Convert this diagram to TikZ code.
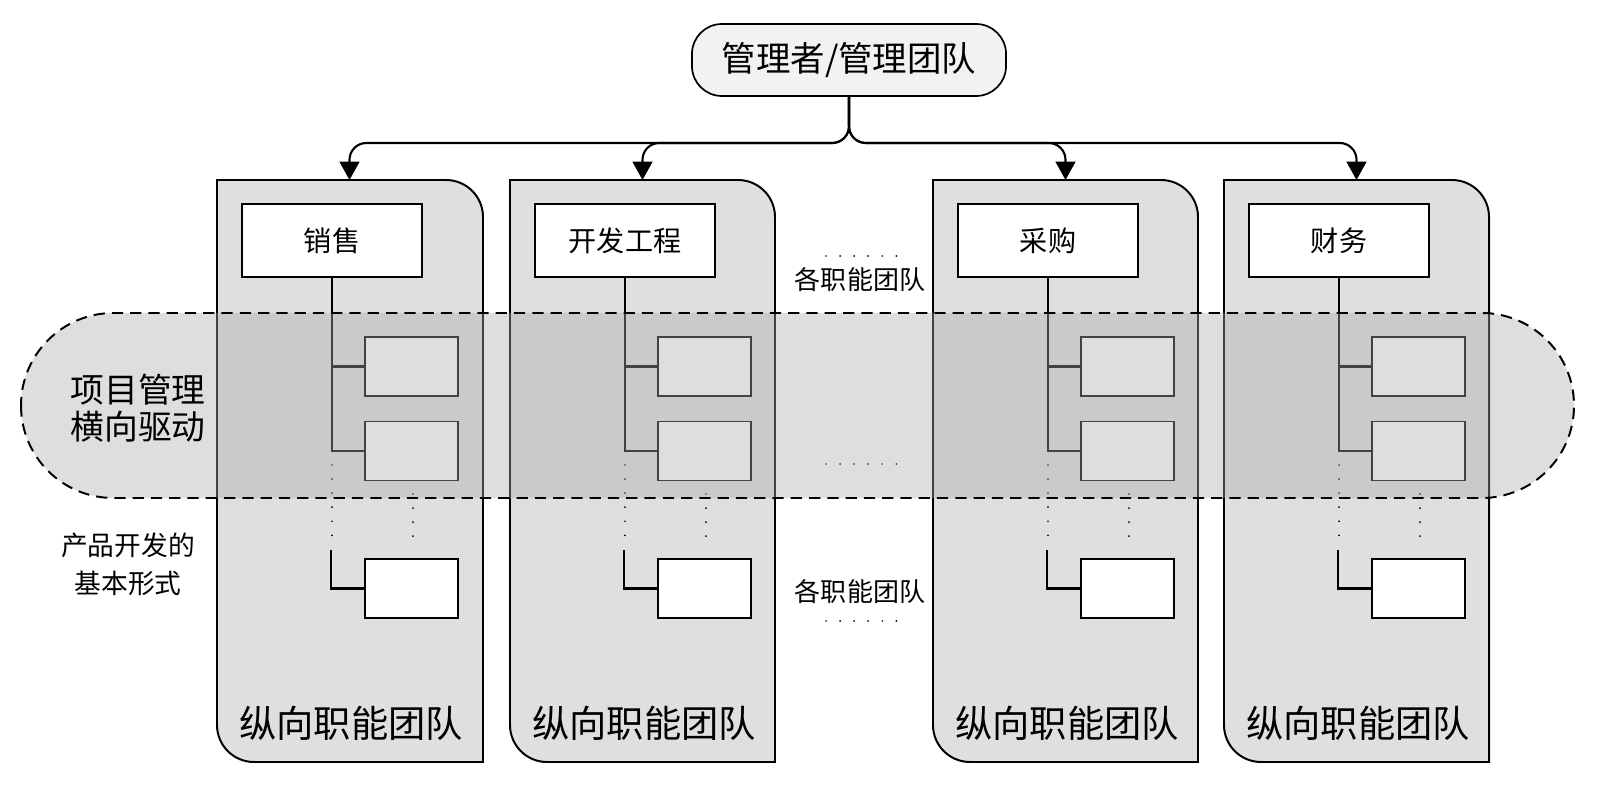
\documentclass[tikz,border=0pt]{standalone}
\usepackage{fontspec}
\setmainfont{Noto Sans CJK SC}
\usepackage{xcolor}
\usetikzlibrary{positioning, calc, arrows.meta}

\definecolor{colfill}{HTML}{DFDFDF}
\definecolor{topfill}{HTML}{F2F2F2}
\definecolor{bandfill}{HTML}{ABABAB}

\tikzset{
  mgrbox/.style={draw, line width=1.2pt, fill=topfill, rounded corners=0.75cm,
    minimum width=7.85cm, minimum height=1.8cm, inner sep=0pt,
    font=\fontsize{24.5}{28}\selectfont},
  colpath/.style={draw, line width=1.4pt, fill=colfill},
  titlebox/.style={draw, line width=1.2pt, fill=white, minimum width=4.5cm,
    minimum height=1.825cm, inner sep=0pt, font=\fontsize{20}{24}\selectfont},
  subbox/.style={draw, line width=1.2pt, fill=white, minimum width=2.325cm,
    minimum height=1.475cm, inner sep=0pt},
  link/.style={line width=1.6pt},
  arrowlink/.style={line width=1.5pt, rounded corners=0.42cm,
    -{Triangle[length=13pt,width=14pt]}},
  dotline/.style={line width=1.4pt, line cap=round, dash pattern=on 0pt off 10pt},
  bandbox/.style={draw, line width=1.4pt, dash pattern=on 8pt off 5pt,
    fill=bandfill, fill opacity=0.39, rounded corners=2.31cm},
  collabel/.style={font=\fontsize{26.5}{30}\selectfont},
}

\begin{document}
\begin{tikzpicture}[x=0.025cm, y=-0.025cm]

    % --- CANVAS (pixel grid, y pointing down) ---
    \useasboundingbox (0,0) rectangle (1611,787);
    \coordinate (bus) at (0,143);

    % --- VERTICAL COLUMNS ---
    % Top-right and bottom-left corners are rounded
    \draw[colpath] (217,180) -- (446,180) arc[start angle=270, end angle=360, radius=37]
        -- (483,762) -- (254,762) arc[start angle=90, end angle=180, radius=37] -- cycle;
    \draw[colpath] (510,180) -- (738,180) arc[start angle=270, end angle=360, radius=37]
        -- (775,762) -- (547,762) arc[start angle=90, end angle=180, radius=37] -- cycle;
    \draw[colpath] (933,180) -- (1161,180) arc[start angle=270, end angle=360, radius=37]
        -- (1198,762) -- (970,762) arc[start angle=90, end angle=180, radius=37] -- cycle;
    \draw[colpath] (1224,180) -- (1452,180) arc[start angle=270, end angle=360, radius=37]
        -- (1489,762) -- (1261,762) arc[start angle=90, end angle=180, radius=37] -- cycle;
    \coordinate (c1) at (349.5,180);
    \coordinate (c2) at (642.5,180);
    \coordinate (c3) at (1065.5,180);
    \coordinate (c4) at (1356.5,180);

    % --- TOP NODE & ARROWS ---
    \node[mgrbox] (mgr) at (849,60) {管理者/管理团队};
    \draw[arrowlink] (mgr.south) |- (c1 |- bus) -- (c1);
    \draw[arrowlink] (mgr.south) |- (c2 |- bus) -- (c2);
    \draw[arrowlink] (mgr.south) |- (c3 |- bus) -- (c3);
    \draw[arrowlink] (mgr.south) |- (c4 |- bus) -- (c4);

    % --- COLUMN 1: sales ---
    \node[titlebox] (xs) at (332,240.5) {销售};
    \node[subbox] (xs1) at (411.5,366.5) {};
    \node[subbox] (xs2) at (411.5,451) {};
    \node[subbox] (xs3) at (411.5,588.5) {};
    \draw[link] (xs.south) |- (xs2.west);
    \draw[link] (xs.south |- xs1.west) -- (xs1.west);
    \draw[link] (xs3.west) -| ++(-33,-39);
    \draw[dotline] (332,465) -- (332,537);
    \draw[dotline] (413,494) -- (413,538);

    % --- COLUMN 2: development ---
    \node[titlebox] (kf) at (625,240.5) {开发工程};
    \node[subbox] (kf1) at (704.5,366.5) {};
    \node[subbox] (kf2) at (704.5,451) {};
    \node[subbox] (kf3) at (704.5,588.5) {};
    \draw[link] (kf.south) |- (kf2.west);
    \draw[link] (kf.south |- kf1.west) -- (kf1.west);
    \draw[link] (kf3.west) -| ++(-33,-39);
    \draw[dotline] (625,465) -- (625,537);
    \draw[dotline] (706,494) -- (706,538);

    % --- COLUMN 3: purchasing ---
    \node[titlebox] (cg) at (1048,240.5) {采购};
    \node[subbox] (cg1) at (1127.5,366.5) {};
    \node[subbox] (cg2) at (1127.5,451) {};
    \node[subbox] (cg3) at (1127.5,588.5) {};
    \draw[link] (cg.south) |- (cg2.west);
    \draw[link] (cg.south |- cg1.west) -- (cg1.west);
    \draw[link] (cg3.west) -| ++(-33,-39);
    \draw[dotline] (1048,465) -- (1048,537);
    \draw[dotline] (1129,494) -- (1129,538);

    % --- COLUMN 4: finance ---
    \node[titlebox] (cw) at (1339,240.5) {财务};
    \node[subbox] (cw1) at (1418.5,366.5) {};
    \node[subbox] (cw2) at (1418.5,451) {};
    \node[subbox] (cw3) at (1418.5,588.5) {};
    \draw[link] (cw.south) |- (cw2.west);
    \draw[link] (cw.south |- cw1.west) -- (cw1.west);
    \draw[link] (cw3.west) -| ++(-33,-39);
    \draw[dotline] (1339,465) -- (1339,537);
    \draw[dotline] (1420,494) -- (1420,538);

    % --- GAP BETWEEN COLUMNS 2 AND 3 ---
    \draw[dotline] (826,256) -- (898,256);
    \node[font=\fontsize{18.5}{22}\selectfont] (gx1) at (860,280) {各职能团队};
    \draw[dotline] (826,464) -- (898,464);
    \node[font=\fontsize{18.5}{22}\selectfont] (gx2) at (860,592) {各职能团队};
    \draw[dotline] (826,621) -- (898,621);

    % --- HORIZONTAL PROJECT BAND (drawn over the columns) ---
    \draw[bandbox] (21,313) rectangle (1574,498);
    \node[align=center, font=\fontsize{24}{26.3}\selectfont] (pm) at (138,408.5) {项目管理\\横向驱动};
    \node[align=center, font=\fontsize{19}{27}\selectfont] (cp) at (128,564) {产品开发的\\基本形式};

    % --- COLUMN LABELS ---
    \node[collabel] (zx1) at (351,723) {纵向职能团队};
    \node[collabel] (zx2) at (644,723) {纵向职能团队};
    \node[collabel] (zx3) at (1067,723) {纵向职能团队};
    \node[collabel] (zx4) at (1358,723) {纵向职能团队};

\end{tikzpicture}
\end{document}
